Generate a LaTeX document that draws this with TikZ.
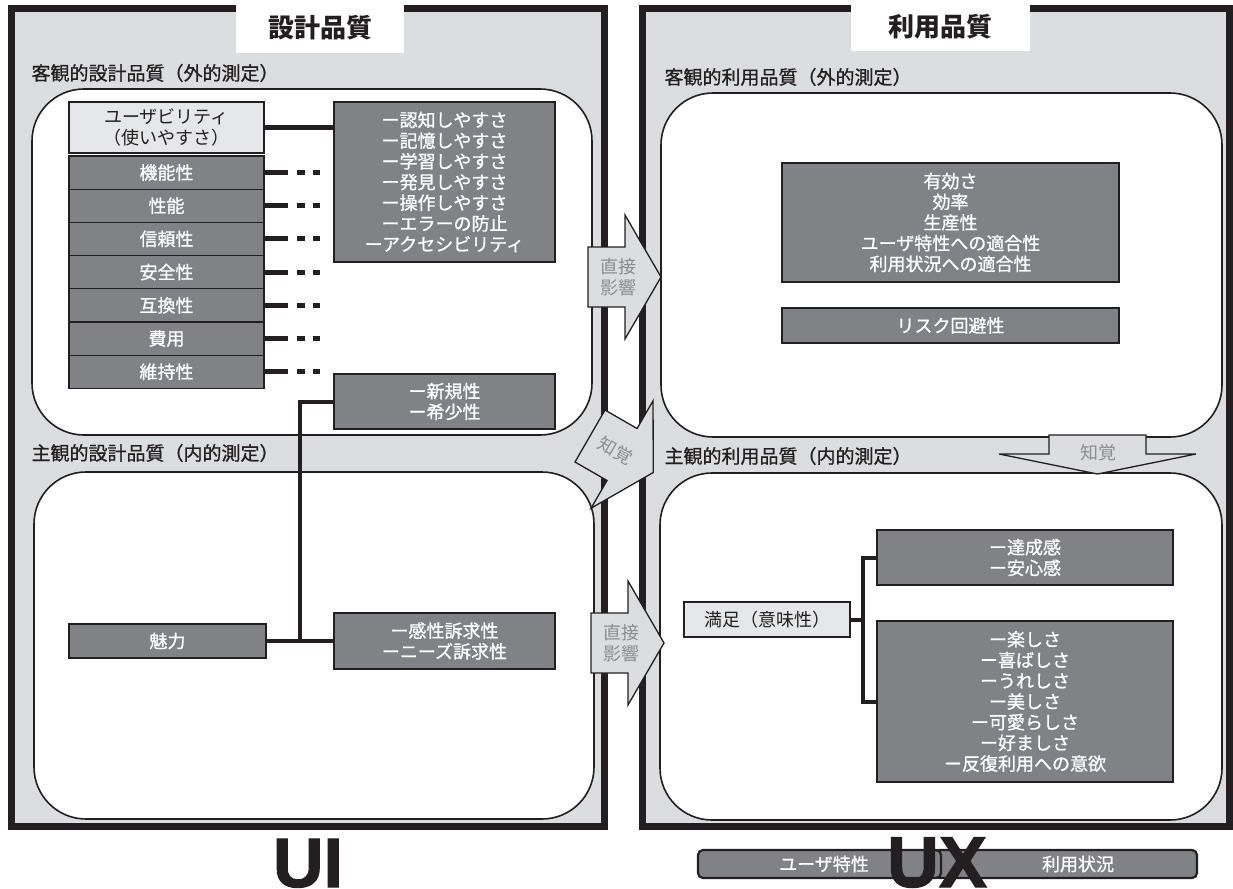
\documentclass[tikz,border=0pt]{standalone}
\usepackage{fontspec}
\setmainfont{Noto Sans CJK JP}
\newfontfamily\medfont[FakeBold=0.8]{Noto Sans CJK JP}
\newfontfamily\heavyfont[FakeBold=1.5]{Liberation Sans Bold}
\definecolor{bggray}{RGB}{220,221,222}
\definecolor{boxgray}{RGB}{128,130,133}
\definecolor{paleitem}{RGB}{230,231,232}
\definecolor{flowgray}{RGB}{140,141,143}
\definecolor{inkblack}{RGB}{35,31,32}
\tikzset{
  outerframe/.style={draw=inkblack, line width=7pt, fill=bggray},
  innerbox/.style={draw=inkblack, line width=1.6pt, fill=white, rounded corners=52pt},
  itembox/.style={draw=inkblack, line width=1.2pt, fill=boxgray, text=white, align=center,
                  inner sep=0pt, font=\medfont\fontsize{18}{20.7}\selectfont},
  lightitem/.style={itembox, fill=paleitem, text=inkblack, font=\fontsize{18}{20.7}\selectfont},
  secname/.style={anchor=west, text=inkblack, font=\medfont\fontsize{19}{22}\selectfont},
  headline/.style={fill=white, text=inkblack, inner sep=0pt, font=\fontsize{26}{28}\selectfont\bfseries},
  link/.style={draw=inkblack, line width=4pt},
  dashlink/.style={draw=inkblack, line width=5pt, dash pattern=on 23pt off 9pt on 8pt off 8pt on 8pt},
  bigarrow/.style={draw=inkblack, line width=1.3pt, fill=bggray, line join=miter},
  flowtext/.style={text=flowgray, align=center, font=\fontsize{18}{21}\selectfont},
  barbox/.style={draw=inkblack, line width=2.2pt, fill=boxgray, rounded corners=5pt},
  bartext/.style={text=white, font=\medfont\fontsize{18}{20}\selectfont},
}
\begin{document}
\begin{tikzpicture}[x=1pt, y=-1pt]
\useasboundingbox (0,0) rectangle (1233,888);
%
% Frames
\draw [outerframe] (11,9) rectangle (604,826);
\draw [outerframe] (642,9) rectangle (1229,826);
\node [headline, minimum width=168pt, minimum height=50pt] (design) at (320,28) {設計品質};
\node [headline, minimum width=179pt, minimum height=48pt] (usage) at (940.5,27) {利用品質};
%
% Section names
\node [secname] (objd) at (28,73)  {客観的設計品質（外的測定）};
\node [secname] (subd) at (28,453) {主観的設計品質（内的測定）};
\node [secname] (obju) at (661,77) {客観的利用品質（外的測定）};
\node [secname] (subu) at (661,456) {主観的利用品質（内的測定）};
%
% Rounded areas
\draw [innerbox] (32,89)  rectangle (592,435);
\draw [innerbox] (34,472) rectangle (594,819);
\draw [innerbox] (661,93) rectangle (1222,437);
\draw [innerbox] (660,473) rectangle (1222,820);
%
% Design quality, objective
\node [lightitem, minimum width=195pt, minimum height=51pt] (usab) at (166.5,127.5) {ユーザビリティ\\（使いやすさ）};
\foreach \name [count=\i from 0] in {機能性,性能,信頼性,安全性,互換性,費用,維持性} {
  \node [itembox, minimum width=195pt, minimum height=33.2pt] (q\i) at (166.5,172.5+33.2*\i) {\name};
  \draw [dashlink] (q\i.east) -- ++(55,0);
}
\node [itembox, minimum width=221pt, minimum height=160pt] (ease) at (444.5,182)
      {ー認知しやすさ\\ー記憶しやすさ\\ー学習しやすさ\\ー発見しやすさ\\ー操作しやすさ\\ーエラーの防止\\ーアクセシビリティ};
\node [itembox, minimum width=221pt, minimum height=55pt] (novel) at (444.5,401.5) {ー新規性\\ー希少性};
\draw [link] (usab.east) -- (usab.east -| ease.west);
%
% Design quality, subjective
\node [itembox, minimum width=197pt, minimum height=34pt] (charm) at (167.5,641) {魅力};
\node [itembox, minimum width=221pt, minimum height=56pt] (appeal) at (444.5,641) {ー感性訴求性\\ーニーズ訴求性};
\coordinate (j1) at (300,641);
\draw [link] (charm.east) -- (appeal.west);
\draw [link] (novel.west) -| (j1);
%
% Usage quality, objective
\node [itembox, minimum width=337pt, minimum height=119pt] (effect) at (950.5,222.5)
      {有効さ\\効率\\生産性\\ユーザ特性への適合性\\利用状況への適合性};
\node [itembox, minimum width=337pt, minimum height=35pt] (risk) at (950.5,325.5) {リスク回避性};
%
% Usage quality, subjective
\node [lightitem, minimum width=166pt, minimum height=35pt] (satis) at (767,619.5) {満足（意味性）};
\node [itembox, minimum width=296pt, minimum height=55pt] (secure) at (1025,557.5) {ー達成感\\ー安心感};
\node [itembox, minimum width=296pt, minimum height=161pt] (joy) at (1025,701.5)
      {ー楽しさ\\ー喜ばしさ\\ーうれしさ\\ー美しさ\\ー可愛らしさ\\ー好ましさ\\ー反復利用への意欲};
\coordinate (j2) at (863,619.5);
\draw [link] (satis.east) -- (j2);
\draw [link] (secure.west) -| (j2) |- (joy.west);
%
% Arrows between the frames
\foreach \px/\py/\ang/\txt [count=\i] in {588/277/0/{直接\\影響}, 591/643/0/{直接\\影響}, 590/436/-30/{知覚}} {
  \begin{scope}[shift={(\px,\py)}, rotate=\ang]
    \draw [bigarrow] (0,-30) -- (37,-30) -- (37,-62) -- (73,0) -- (37,62) -- (37,30) -- (0,30) -- cycle;
    \node [flowtext, rotate=\ang] (flow\i) at (30,0) {\txt};
  \end{scope}
}
%
% Perception arrow
\draw [bigarrow] (1049,435) -- (1146,435) -- (1146,454) -- (1196,454)
              -- (1097.5,474) -- (999,454) -- (1049,454) -- cycle;
\node [flowtext] (percept) at (1098,453) {知覚};
%
% Bottom bars
\draw [barbox] (934,850) rectangle (1197,878);
\draw [barbox] (698,850) rectangle (941,878);
\node [bartext] (userchar) at (824,864) {ユーザ特性};
\node [bartext] (context) at (1078,864) {利用状況};
%
% UI / UX
\node [anchor=base, text=inkblack, font=\heavyfont\fontsize{70}{70}\selectfont] (ui) at (308,887) {UI};
\node [anchor=base, text=inkblack, font=\heavyfont\fontsize{72}{72}\selectfont] (ux) at (937,887) {UX};
%
\end{tikzpicture}
\end{document}
